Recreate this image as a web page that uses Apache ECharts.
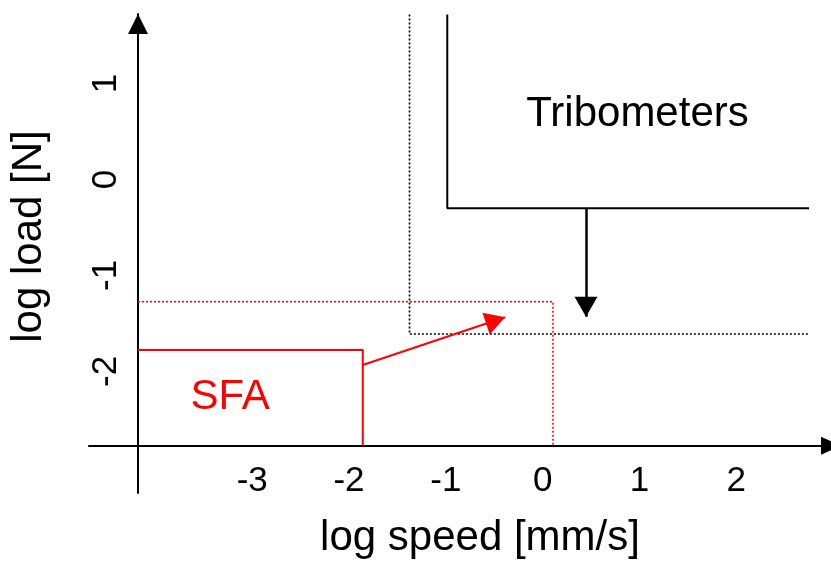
<!DOCTYPE html>
<html><head><meta charset="utf-8">
<script src="https://cdn.jsdelivr.net/npm/echarts@6/dist/echarts.min.js"></script>
<style>html,body{margin:0;padding:0;background:#fff}#c{width:831px;height:562px}</style>
</head><body><div id="c"></div>
<script>
// ---- data (log speed [mm/s], log load [N]) ----
const speedTicks = [-3, -2, -1, 0, 1, 2];
const loadTicks = [-2, -1, 0, 1];
const speedRange = [-4.686, 2.979];
const loadRange = [-3.268, 1.724];
const sfaBox = [[-4.18, -1.778], [-1.858, -1.778], [-1.858, -2.775]];
const sfaExtended = [[-4.18, -1.275], [0.107, -1.275], [0.107, -2.775]];
const triboBox = [[-0.985, 1.72], [-0.985, -0.301], [2.752, -0.301]];
const triboExtended = [[-1.375, 1.72], [-1.375, -1.611], [2.752, -1.611]];
const triboArrow = [[0.448, -0.301], [0.448, -1.431]];
const sfaArrow = [[-1.858, -1.934], [-0.388, -1.437]];
const regionNames = ['Tribometers', 'SFA'];
const regionLabelPos = [[0.98, 0.675], [-3.228, -2.273]];
const regionColors = ['#000000', '#ff0000'];

const FONT = 'Liberation Sans';
// arrow head with its tip at the symbol centre
const arrowHead = 'path://M0,0M0,20L10,40L-10,40Z';

const chart = echarts.init(document.getElementById('c'), null, {renderer: 'canvas'});
const lineSeries = (data, color, width, dotted) => ({
  type: 'line', data: data, symbol: 'none', showSymbol: false, silent: true,
  clip: false, animation: false,
  lineStyle: {color: color, width: width, opacity: 1, type: dotted ? [2, 2] : 'solid'}
});
chart.setOption({
  animation: false,
  backgroundColor: '#ffffff',
  textStyle: {fontFamily: FONT},
  grid: {left: 89, right: 0, top: 14, bottom: 69, containLabel: false, outerBoundsMode: 'none'},
  xAxis: {
    type: 'value', min: speedRange[0], max: speedRange[1], offset: -47.3,
    axisLine: {show: true, onZero: false, symbol: ['none', 'triangle'], symbolSize: [18, 20],
      lineStyle: {color: '#000', width: 2}},
    axisTick: {show: false}, splitLine: {show: false},
    axisLabel: {customValues: speedTicks, fontSize: 35, color: '#000', fontFamily: FONT, margin: 18},
    name: 'log speed [mm/s]', nameLocation: 'middle', nameGap: 72, nameMoveOverlap: false,
    nameTextStyle: {fontSize: 42, color: '#000', fontFamily: FONT, padding: [0, 0, 0, 40]}
  },
  yAxis: {
    type: 'value', min: loadRange[0], max: loadRange[1], offset: -49,
    axisLine: {show: true, onZero: false, symbol: ['none', 'triangle'], symbolSize: [20, 20],
      symbolOffset: [0, -10], lineStyle: {color: '#000', width: 2}},
    axisTick: {show: false}, splitLine: {show: false},
    axisLabel: {customValues: loadTicks, fontSize: 35, color: '#000', fontFamily: FONT, margin: 14, rotate: 90},
    name: 'log load [N]', nameLocation: 'middle', nameGap: 88, nameMoveOverlap: false,
    nameTextStyle: {fontSize: 42, color: '#000', fontFamily: FONT, padding: [0, 0, 0, 34]}
  },
  series: [
    lineSeries(sfaExtended, '#ff0000', 1.5, true),
    lineSeries(triboExtended, '#000000', 1.7, true),
    lineSeries(sfaBox, '#ff0000', 2, false),
    lineSeries(triboBox, '#000000', 2, false),
    {
      type: 'line', data: [], silent: true, animation: false,
      markLine: {
        silent: true, animation: false, symbol: ['none', arrowHead], symbolSize: [23, 40],
        label: {show: false}, emphasis: {disabled: true},
        data: [
          [{coord: triboArrow[0], lineStyle: {color: '#000', width: 2.5, type: 'solid', opacity: 1}}, {coord: triboArrow[1]}],
          [{coord: sfaArrow[0], lineStyle: {color: '#ff0000', width: 2, type: 'solid', opacity: 1}}, {coord: sfaArrow[1]}]
        ]
      }
    },
    {
      type: 'scatter', symbolSize: 0, silent: true, animation: false,
      itemStyle: {opacity: 1},
      data: regionNames.map((n, i) => ({
        name: n, value: regionLabelPos[i],
        label: {show: true, position: 'inside', formatter: '{b}', fontSize: 42, fontFamily: FONT,
          color: regionColors[i], opacity: 1, textBorderWidth: 0}
      }))
    }
  ]
});
</script></body></html>
